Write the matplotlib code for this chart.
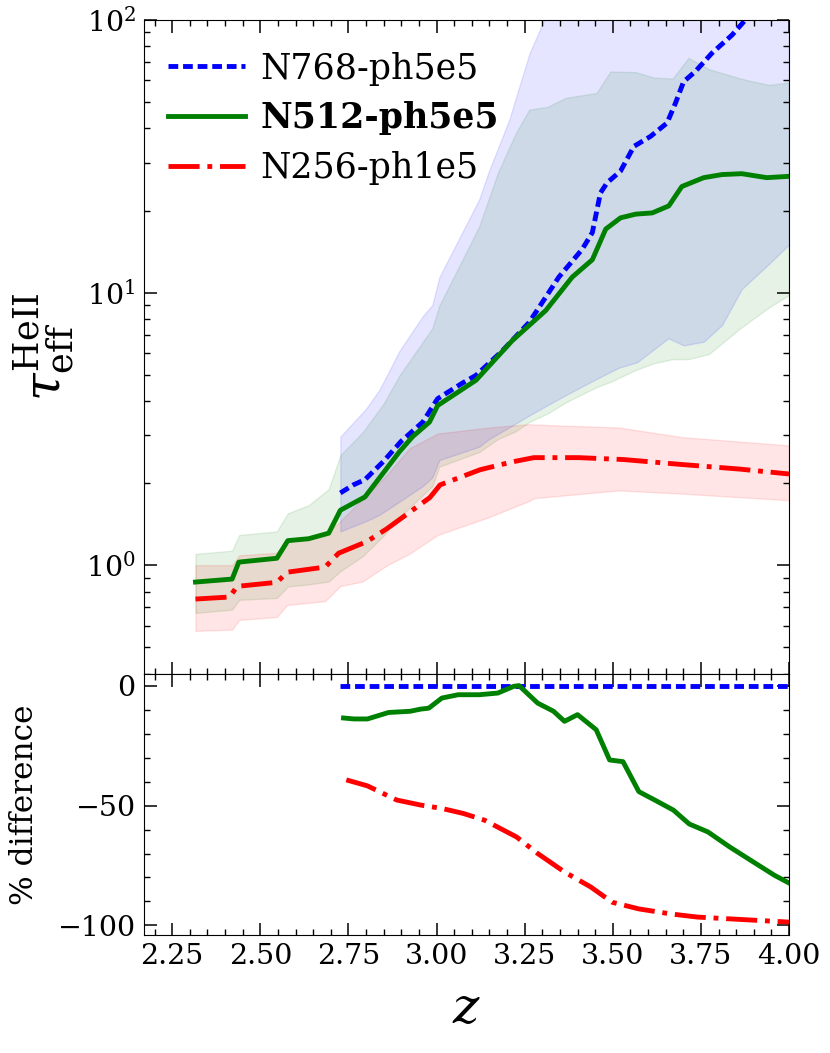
import numpy as np
import matplotlib
matplotlib.use("Agg")
import matplotlib.pyplot as plt
from matplotlib.ticker import MultipleLocator, FormatStrFormatter

plt.rcParams['font.family'] = ['DejaVu Serif']
plt.rcParams['mathtext.fontset'] = 'dejavuserif'
plt.rcParams['axes.unicode_minus'] = True

# N768-ph5e5 (tau_eff median and band)
z_768 = [2.727, 2.764, 2.797, 2.849, 2.9, 2.961, 3.003, 3.074, 3.112, 3.187,
         3.263, 3.347, 3.413, 3.442, 3.465, 3.484, 3.522, 3.56, 3.607, 3.654,
         3.678, 3.701, 3.734, 3.781, 3.838, 3.876, 4.0]
tau_768 = [1.84, 1.97, 2.06, 2.4, 2.85, 3.35, 4.08, 4.66, 4.97, 6.12,
           7.78, 11.4, 14.4, 16.6, 23.2, 25.3, 27.9, 34.4, 37.4, 41.9,
           49.6, 59.4, 64.7, 75.5, 88.0, 100.0, 135.0]
zb_768 = [2.727, 2.8, 2.838, 2.895, 2.961, 2.988, 3.008, 3.121, 3.149, 3.206,
          3.263, 3.305, 3.366, 3.451, 3.517, 3.569, 3.658, 3.701, 3.758, 3.81,
          3.866, 3.942, 4.0]
lo_768 = [1.33, 1.45, 1.53, 1.71, 1.95, 2.1, 2.43, 2.72, 2.9, 3.2,
          3.54, 3.8, 4.2, 4.8, 5.3, 5.55, 6.8, 6.4, 6.6, 7.6,
          10.3, 12.7, 15.0]
hi_768 = [2.96, 3.75, 4.4, 6.12, 8.2, 9.0, 11.4, 22.0, 28.0, 43.0,
          75.0, 100.0, 130.0, 160.0, 185.0, 200.0, 230.0, 260.0, 290.0, 320.0,
          350.0, 380.0, 400.0]

# N512-ph5e5
z_512 = [2.316, 2.42, 2.439, 2.547, 2.578, 2.637, 2.694, 2.727, 2.797, 2.895,
         2.932, 2.98, 3.003, 3.112, 3.215, 3.31, 3.385, 3.442, 3.48, 3.522,
         3.565, 3.612, 3.659, 3.696, 3.758, 3.81, 3.866, 3.937, 4.0]
tau_512 = [0.867, 0.889, 1.026, 1.06, 1.23, 1.25, 1.31, 1.59, 1.78, 2.61,
           2.96, 3.35, 3.85, 4.77, 6.67, 8.6, 11.4, 13.2, 17.1, 18.8,
           19.4, 19.6, 20.8, 24.5, 26.4, 27.1, 27.3, 26.4, 26.7]
zb_512 = [2.316, 2.42, 2.44, 2.547, 2.578, 2.637, 2.694, 2.727, 2.791, 2.849,
          2.895, 2.988, 3.008, 3.121, 3.174, 3.225, 3.263, 3.315, 3.366, 3.454,
          3.493, 3.565, 3.616, 3.67, 3.715, 3.773, 3.862, 3.942, 4.0]
lo_512 = [0.668, 0.687, 0.746, 0.758, 0.835, 0.85, 0.871, 0.95, 1.08, 1.28,
          1.5, 1.95, 2.3, 2.6, 2.9, 3.1, 3.35, 3.6, 3.95, 4.5,
          4.7, 5.2, 5.5, 5.7, 5.7, 5.95, 7.4, 8.8, 9.8]
hi_512 = [1.10, 1.13, 1.29, 1.33, 1.55, 1.66, 1.90, 2.53, 3.08, 3.9,
          4.97, 7.4, 8.96, 17.5, 27.5, 38.5, 46.9, 48.0, 51.8, 54.0,
          64.7, 64.4, 61.5, 61.0, 72.6, 66.0, 61.0, 57.8, 59.0]

# N256-ph1e5
z_256 = [2.316, 2.413, 2.434, 2.547, 2.576, 2.684, 2.722, 2.802, 2.859, 2.981,
         3.01, 3.124, 3.213, 3.276, 3.404, 3.531, 3.696, 3.862, 4.0]
tau_256 = [0.751, 0.764, 0.836, 0.865, 0.942, 0.984, 1.106, 1.22, 1.36, 1.77,
           1.97, 2.24, 2.39, 2.48, 2.48, 2.44, 2.34, 2.25, 2.16]
zb_256 = [2.316, 2.42, 2.44, 2.547, 2.576, 2.684, 2.727, 2.79, 2.86, 2.923,
          3.003, 3.149, 3.263, 3.276, 3.517, 3.696, 4.0]
lo_256 = [0.574, 0.58, 0.63, 0.645, 0.714, 0.738, 0.838, 0.871, 1.0, 1.1,
          1.29, 1.5, 1.72, 1.76, 1.88, 1.83, 1.73]
hi_256 = [1.0, 1.0, 1.087, 1.11, 1.23, 1.29, 1.45, 1.75, 2.15, 2.68,
          3.04, 3.2, 3.29, 3.28, 3.2, 2.95, 2.75]

# percentage difference w.r.t. N768-ph5e5
zp_768 = [2.727, 4.0]
pct_768 = [0.0, 0.0]
zp_512 = [2.736, 2.766, 2.804, 2.864, 2.925, 2.955, 2.978, 3.015, 3.061, 3.121,
          3.174, 3.219, 3.234, 3.287, 3.332, 3.363, 3.40, 3.453, 3.491, 3.529,
          3.574, 3.619, 3.672, 3.717, 3.77, 3.831, 3.891, 3.959, 4.0]
pct_512 = [-13.5, -13.9, -13.9, -11.2, -10.7, -9.8, -9.4, -5.2, -3.8, -3.8,
           -3.1, -0.3, 0.0, -7.3, -10.7, -14.9, -12.1, -18.4, -31.0, -31.7,
           -44.2, -47.7, -51.9, -57.7, -61.0, -67.2, -72.8, -79.1, -82.3]
zp_256 = [2.744, 2.804, 2.887, 2.955, 3.015, 3.076, 3.136, 3.227, 3.287, 3.363,
          3.438, 3.498, 3.574, 3.665, 3.74, 3.876, 4.0]
pct_256 = [-39.3, -41.8, -47.7, -49.8, -51.2, -53.3, -56.1, -63.1, -70.0, -77.7,
           -84.0, -90.3, -93.1, -95.2, -96.5, -97.6, -98.6]

labels = ["N768-ph5e5", "N512-ph5e5", "N256-ph1e5"]

fig, (ax, axd) = plt.subplots(2, 1, figsize=(8.3, 10.53), dpi=100, sharex=True,
                              gridspec_kw=dict(height_ratios=[2.5, 1], hspace=0))
fig.subplots_adjust(left=0.1735, right=0.9506, top=0.981, bottom=0.112)

blue_dash = (0, (2, 1))
lw = 3.5

ax.fill_between(zb_512, lo_512, hi_512, color="green", alpha=0.1)
ax.fill_between(zb_256, lo_256, hi_256, color="red", alpha=0.1)
ax.fill_between(zb_768, lo_768, hi_768, color="blue", alpha=0.1)
ax.plot(z_768, tau_768, color="blue", ls=blue_dash, lw=lw, label=labels[0])
ax.plot(z_512, tau_512, color="green", ls="-", lw=lw, label=labels[1])
ax.plot(z_256, tau_256, color="red", ls="-.", lw=lw, label=labels[2])

ax.set_yscale("log")
ax.set_ylim(0.4, 100)
ax.set_xlim(2.17, 4.0)
ax.set_ylabel(r"$\tau_{\rm eff}^{\rm HeII}$", fontsize=36)
ax.yaxis.set_label_coords(-0.105, 0.5)

leg = ax.legend(loc="upper left", bbox_to_anchor=(0.0, 0.989), frameon=False,
                fontsize=25, handlelength=2.2, handletextpad=0.45,
                borderaxespad=0.3, labelspacing=0.45)
leg.get_texts()[1].set_fontweight("bold")

axd.plot(zp_768, pct_768, color="blue", ls=blue_dash, lw=lw)
axd.plot(zp_512, pct_512, color="green", ls="-", lw=lw)
axd.plot(zp_256, pct_256, color="red", ls="-.", lw=lw)
axd.set_ylim(-104, 5)
axd.yaxis.set_major_locator(MultipleLocator(50))
axd.yaxis.set_minor_locator(MultipleLocator(10))
axd.xaxis.set_major_locator(MultipleLocator(0.25))
axd.xaxis.set_minor_locator(MultipleLocator(0.05))
axd.xaxis.set_major_formatter(FormatStrFormatter("%.2f"))
axd.set_ylabel("% difference", fontsize=22.5)
axd.yaxis.set_label_coords(-0.162, 0.5)
axd.set_xlabel(r"$z$", fontsize=36, labelpad=10)

for a in (ax, axd):
    a.tick_params(which="both", direction="in", top=True, right=True, labelsize=20.5, pad=6)
    a.tick_params(which="major", length=9, width=1.1)
    a.tick_params(which="minor", length=4.5, width=1.0)

fig.savefig("out.png", dpi=100)
